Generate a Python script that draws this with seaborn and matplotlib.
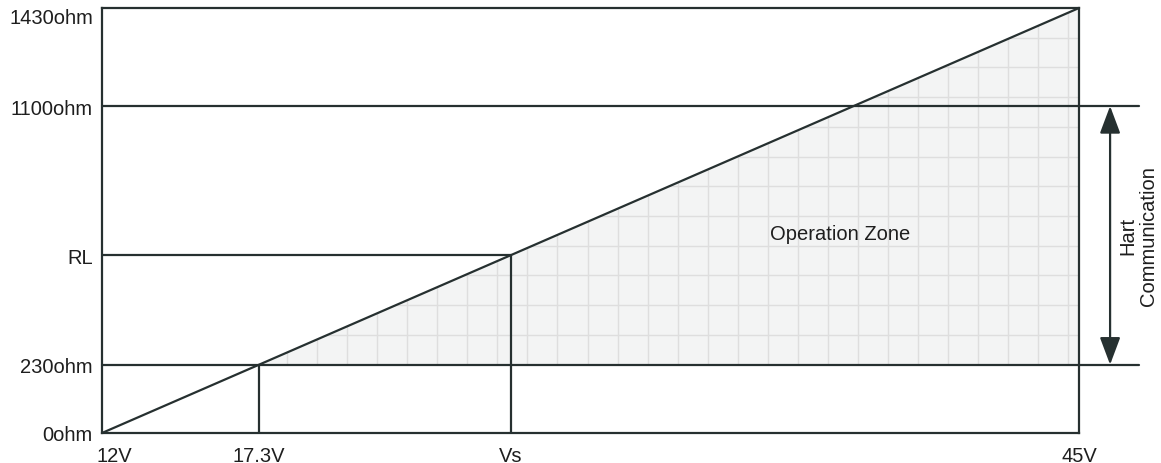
import numpy as np
import matplotlib
matplotlib.use("Agg")
import matplotlib.pyplot as plt
from matplotlib.patches import Polygon
from matplotlib.transforms import ScaledTranslation
import seaborn as sns
import pandas as pd

# ---- data ----
v_min, v_max = 12.0, 45.0
v_hart = 17.3
v_s = 25.82
r_max = 1430.0
r_hart_low = 230.0
r_hart_high = 1100.0
r_l = 598.0

x_ticks = [v_min, v_hart, v_s, v_max]
x_labels = ["12V", "17.3V", "Vs", "45V"]
y_ticks = [0, r_hart_low, r_l, r_hart_high, r_max]
y_labels = ["0ohm", "230ohm", "RL", "1100ohm", "1430ohm"]

load_line = pd.DataFrame({"V": [v_min, v_max], "R": [0.0, r_max]})

grid_x = np.arange(18.25, 45.0, 1.015)
grid_y = np.arange(330, 1430, 100)

# ---- style ----
sns.set_theme(style="white")
plt.rcParams["font.family"] = ["Liberation Sans", "DejaVu Sans"]
dark = "#263030"
txt = "#1e1e1e"
lw = 1.6
fs = 14.5

fig = plt.figure(figsize=(11.61, 4.64), dpi=100)
ax = fig.add_axes([102 / 1161, 1 - 434 / 464, 977 / 1161, 425 / 464])

# operation zone fill
zone = Polygon([[v_hart, r_hart_low], [v_max, r_hart_low], [v_max, r_max]],
               closed=True, fc="#f3f4f4", ec="none", zorder=1)
ax.add_patch(zone)
vl = ax.vlines(grid_x, r_hart_low, r_max, color="#dedede", lw=1.0, zorder=2)
vl.set_clip_path(zone)
hl = ax.hlines(grid_y, v_hart, v_max, color="#dedede", lw=1.0, zorder=2)
hl.set_clip_path(zone)

# load line
sns.lineplot(data=load_line, x="V", y="R", color=dark, lw=lw, ax=ax, zorder=5)

# reference lines
ext = 47.03
ax.plot([v_min, ext], [r_hart_high] * 2, color=dark, lw=lw, clip_on=False, zorder=5)
ax.plot([v_min, ext], [r_hart_low] * 2, color=dark, lw=lw, clip_on=False, zorder=5)
ax.plot([v_min, v_s], [r_l] * 2, color=dark, lw=lw, zorder=5)
ax.plot([v_s, v_s], [0, r_l], color=dark, lw=lw, zorder=5)
ax.plot([v_hart, v_hart], [0, r_hart_low], color=dark, lw=lw, zorder=5)

# arrow
ax.annotate("", xy=(46.05, r_hart_high), xytext=(46.05, r_hart_low),
            annotation_clip=False,
            arrowprops=dict(arrowstyle="<|-|>,head_length=1.2,head_width=0.45",
                            mutation_scale=14, color=dark, lw=lw,
                            shrinkA=0, shrinkB=0))
ax.text(47.0, 666, "Hart\nCommunication", rotation=90, ha="center", va="center",
        multialignment="center", fontsize=fs, color=txt, clip_on=False,
        linespacing=1.15)
ax.text(36.93, 670, "Operation Zone", ha="center", va="center", fontsize=fs,
        color=txt, zorder=6)

ax.set_xlim(v_min, v_max)
ax.set_ylim(0, r_max)
ax.set_xticks(x_ticks)
ax.set_xticklabels(x_labels)
ax.set_yticks(y_ticks)
ax.set_yticklabels(y_labels)
ax.set_xlabel("")
ax.set_ylabel("")
ax.tick_params(axis="both", length=0, labelsize=fs, labelcolor=txt)
ax.tick_params(axis="x", pad=9.5)
ax.tick_params(axis="y", pad=6.5)
for s in ax.spines.values():
    s.set_color(dark)
    s.set_linewidth(lw)
    s.set_zorder(6)

for lab in ax.get_xticklabels():
    if lab.get_text() == "12V":
        lab.set_ha("center")
        lab.set_transform(lab.get_transform() +
                          ScaledTranslation(0.12, 0, fig.dpi_scale_trans))
for lab in ax.get_yticklabels():
    if lab.get_text() == "1430ohm":
        lab.set_va("top")

fig.savefig("out.png", dpi=100, facecolor="white")
